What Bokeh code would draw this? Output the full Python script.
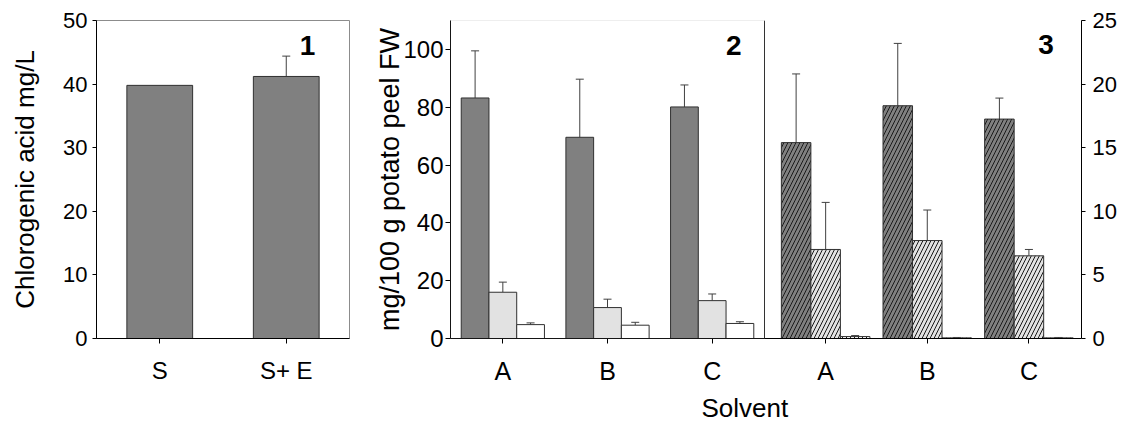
import numpy as np
from bokeh.plotting import figure
from bokeh.models import (Range1d, FactorRange, LinearAxis, FixedTicker, Whisker, TeeHead,
                          ColumnDataSource, Label, Span, BoxAnnotation, Title)
from bokeh.layouts import row
from bokeh.embed import file_html
from bokeh.resources import INLINE

FONT = "Liberation Sans"

# ---------------- data ----------------
# Panel 1
p1_cats = ["S", "S+ E"]
p1_vals = [39.8, 41.2]
p1_err = [0.0, 3.2]
p1_yticks = [0, 10, 20, 30, 40, 50]

# Panels 2 & 3 (solvents)
solvents = ["A", "B", "C"]
p2_dark = [83.2, 69.6, 80.1]
p2_dark_err = [16.3, 20.1, 7.6]
p2_light = [16.0, 10.7, 13.1]
p2_light_err = [3.5, 2.9, 2.3]
p2_white = [4.8, 4.6, 5.2]
p2_white_err = [0.6, 1.0, 0.6]
p2_yticks = [0, 20, 40, 60, 80, 100]

p3_dark = [15.4, 18.3, 17.25]
p3_dark_err = [5.4, 4.9, 1.65]
p3_light = [7.0, 7.7, 6.5]
p3_light_err = [3.7, 2.4, 0.5]
p3_white = [0.15, 0.05, 0.05]
p3_white_err = [0.08, 0.03, 0.03]
p3_yticks = [0, 5, 10, 15, 20, 25]

# ---------------- styles ----------------
DARK = "#808080"
LIGHT = "#e2e2e2"
WHITE = "#ffffff"
EDGE = "#303030"
ERR = "#404040"
BORDER = "#8c8c8c"


def style_axis(ax, tick_size, standoff, tick_out=5):
    ax.major_label_text_font = FONT
    ax.major_label_text_font_size = tick_size
    ax.major_label_text_color = "#000000"
    ax.major_label_standoff = standoff
    ax.major_tick_out = tick_out
    ax.major_tick_in = 0
    ax.minor_tick_out = 0
    ax.minor_tick_in = 0
    ax.axis_line_color = "#000000"
    ax.major_tick_line_color = "#000000"
    ax.axis_label_text_font = FONT
    ax.axis_label_text_font_style = "normal"
    ax.axis_label_text_color = "#000000"


def add_err(fig, xs, tops, errs, y_range_name="default"):
    xs2, lo, hi = [], [], []
    for x, t, e in zip(xs, tops, errs):
        if e > 0:
            xs2.append(x)
            lo.append(t)
            hi.append(t + e)
    src = ColumnDataSource(dict(x=xs2, lower=lo, upper=hi))
    w = Whisker(base="x", lower="lower", upper="upper", source=src,
                lower_head=None,
                upper_head=TeeHead(size=8, line_color=ERR, line_width=1),
                line_color=ERR, line_width=1, y_range_name=y_range_name)
    fig.add_layout(w)


# ---------------- panel 1 ----------------
f1 = figure(width=372, height=427, x_range=FactorRange(*p1_cats, range_padding=0),
            y_range=Range1d(0, 50), output_backend="svg", toolbar_location=None,
            min_border_left=96, min_border_right=23, min_border_top=20, min_border_bottom=89)
f1.xgrid.visible = False
f1.ygrid.visible = False
f1.outline_line_color = BORDER
f1.background_fill_color = "white"
f1.border_fill_color = "white"

f1.vbar(x=p1_cats, top=p1_vals, width=0.52, fill_color=DARK, line_color=EDGE, line_width=1)
add_err(f1, p1_cats, p1_vals, p1_err)

f1.yaxis.ticker = FixedTicker(ticks=p1_yticks)
style_axis(f1.yaxis[0], "22px", 5, tick_out=4)
f1.yaxis.axis_label = "Chlorogenic acid mg/L"
f1.yaxis.axis_label_text_font_size = "26px"
f1.yaxis.axis_label_standoff = 20
style_axis(f1.xaxis[0], "24px", 13)
f1.xaxis.major_label_orientation = "horizontal"

f1.add_layout(Label(x=211, y=293, x_units="screen", y_units="screen", text="1",
                    text_font=FONT, text_font_size="28px", text_font_style="bold",
                    text_color="#000000", text_align="center", text_baseline="middle"))

# ---------------- panels 2 + 3 (combined) ----------------
P2_W = 0.265
P3_START = 3.584
P3_STEP = 0.971
P3_W = 0.282
X_END = 637 / (317 / 3)

n = len(solvents)
x2 = np.arange(n) * 1.0 + 0.5
x3 = P3_START + np.arange(n) * P3_STEP

f2 = figure(width=757, height=427, x_range=Range1d(0, X_END), y_range=Range1d(0, 110),
            output_backend="svg", toolbar_location=None,
            min_border_left=72, min_border_right=48, min_border_top=20, min_border_bottom=89)
f2.extra_y_ranges = {"r": Range1d(0, 25)}
f2.xgrid.visible = False
f2.ygrid.visible = False
f2.outline_line_color = None
f2.background_fill_color = "white"
f2.border_fill_color = "white"

# panel 2 bars
for off, vals, errs, col in [(-P2_W, p2_dark, p2_dark_err, DARK),
                             (0.0, p2_light, p2_light_err, LIGHT),
                             (P2_W, p2_white, p2_white_err, WHITE)]:
    xs = list(x2 + off)
    f2.vbar(x=xs, top=vals, width=P2_W, fill_color=col, line_color=EDGE, line_width=1)
    add_err(f2, xs, vals, errs)

# panel 3 bars (hatched, right axis)
for off, vals, errs, col in [(-P3_W, p3_dark, p3_dark_err, DARK),
                             (0.0, p3_light, p3_light_err, LIGHT),
                             (P3_W, p3_white, p3_white_err, WHITE)]:
    xs = list(x3 + off)
    f2.vbar(x=xs, top=vals, width=P3_W, fill_color=col, line_color=EDGE, line_width=1,
            hatch_pattern="/", hatch_scale=8, hatch_color="#1a1a1a", hatch_weight=1,
            y_range_name="r")
    add_err(f2, xs, vals, errs, y_range_name="r")

# panel 2 frame (top + right border) and divider
f2.add_layout(BoxAnnotation(left=0, right=3, bottom=0, top=110, fill_alpha=0,
                            line_color=BORDER, line_width=1))
f2.add_layout(Span(location=3, dimension="height", line_color="#333333", line_width=1))

# axes
ticks = [float(t) for t in list(x2) + list(x3)]
labels = solvents + solvents
f2.xaxis.ticker = FixedTicker(ticks=ticks)
f2.xaxis.major_label_overrides = {t: l for t, l in zip(ticks, labels)}
style_axis(f2.xaxis[0], "25px", 13)

f2.yaxis.ticker = FixedTicker(ticks=p2_yticks)
style_axis(f2.yaxis[0], "24px", 2)
f2.yaxis.axis_label = "mg/100 g potato peel FW"
f2.yaxis.axis_label_text_font_size = "27px"
f2.yaxis.axis_label_standoff = -5

raxis = LinearAxis(y_range_name="r", ticker=FixedTicker(ticks=p3_yticks))
style_axis(raxis, "22px", 7, tick_out=4)
f2.add_layout(raxis, "right")

for lx, ly, txt in [(2.707, 101.4, "2"), (5.69, 101.7, "3")]:
    f2.add_layout(Label(x=lx, y=ly, text=txt, text_font=FONT, text_font_size="28px",
                        text_font_style="bold", text_color="#000000",
                        text_align="center", text_baseline="middle"))

solvent_title = Title(text="Solvent", align="left", offset=251, text_font=FONT,
                      text_font_size="26px", text_font_style="normal",
                      text_color="#000000", standoff=6)
f2.add_layout(solvent_title, "below")

layout = row(f1, f2, spacing=0)
open("out.html", "w").write(file_html(layout, INLINE))
